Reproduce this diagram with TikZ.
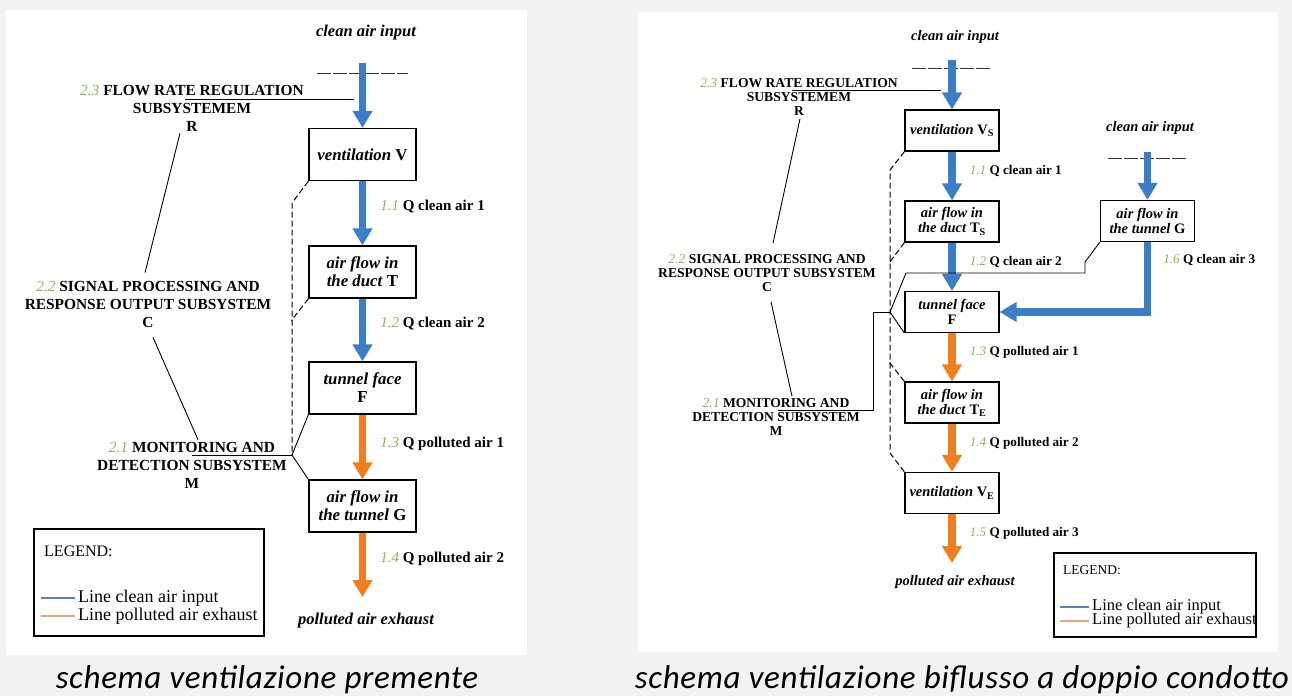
\documentclass[tikz,border=0pt]{standalone}
\usepackage{fontspec}
\setmainfont{Liberation Serif}
\newfontfamily\capfont[LetterSpace=2]{Carlito}
\usetikzlibrary{arrows.meta}
\usetikzlibrary{positioning}

\definecolor{cleanblue}{HTML}{3B7DC6}
\definecolor{dirtyorange}{HTML}{F07D1E}
\definecolor{numgreen}{HTML}{8CB84E}
\definecolor{bggrey}{HTML}{F2F2F2}
\definecolor{legblue}{HTML}{5A82B4}
\definecolor{legorange}{HTML}{E8A878}

\newcommand{\gnum}[1]{{\color{numgreen}\mdseries\itshape #1}}
\newcommand{\boxL}{\fontsize{16.8}{18}\selectfont\bfseries}
\newcommand{\boxR}{\fontsize{14.5}{15}\selectfont\bfseries}
\newcommand{\subL}{\fontsize{15.4}{18}\selectfont\bfseries}
\newcommand{\subR}{\fontsize{13.6}{14}\selectfont\bfseries}
\newcommand{\qL}{\fontsize{15}{17}\selectfont\bfseries}
\newcommand{\qR}{\fontsize{13.2}{15}\selectfont\bfseries}
\newcommand{\tipL}{\fontsize{16.5}{18}\selectfont\bfseries\itshape}
\newcommand{\tipR}{\fontsize{14.5}{16}\selectfont\bfseries\itshape}
\newcommand{\legL}{\fontsize{18}{18}\selectfont}
\newcommand{\legR}{\fontsize{16.5}{16}\selectfont}

\tikzset{
  boxl/.style={draw, line width=1.3pt, fill=white, align=center, inner sep=1pt,
    minimum width=107pt, minimum height=52pt, font=\boxL},
  boxr/.style={draw, line width=1.2pt, fill=white, align=center, inner sep=1pt,
    minimum width=94pt, minimum height=41pt, font=\boxR},
  cleanarrow/.style={draw=cleanblue, line width=7.5pt, -{Triangle[width=19pt,length=17pt]}},
  dirtyarrow/.style={draw=dirtyorange, line width=7.5pt, -{Triangle[width=19pt,length=17pt]}},
  intake/.style={draw=black!80, line width=1pt, dash pattern=on 14pt off 2pt},
  sub/.style={draw, line width=0.9pt},
  ctrl/.style={draw, line width=1pt, dash pattern=on 6pt off 3pt},
  subtxt/.style={align=center, inner sep=2pt},
  qlab/.style={right=14pt, inner sep=0pt},
  legtxt/.style={anchor=west, inner sep=0pt}
}

\begin{document}
\begin{tikzpicture}[x=1pt, y=-1pt]
\useasboundingbox (0,0) rectangle (1292,696);
\fill[bggrey] (0,0) rectangle (1292,696);
\fill[white] (6,10) rectangle (527,655);
\fill[white] (638,12) rectangle (1278,652);

% ---- left: schema premente ----
\node[font=\tipL] (inTxtL) at (366,33) {clean air input};
\coordinate (dashLa) at (317,73);
\coordinate (dashLb) at (408,73);
\coordinate (inL) at (362.5,63);
\coordinate (outL) at (362.5,597);
\draw[intake] (dashLa) -- (dashLb);

\node[boxl] (V) at (362.5,154.5) {\textit{ventilation} V};
\node[boxl] (T) at (362.5,272) {\textit{air flow in}\\\textit{the duct} T};
\node[boxl] (F) at (362.5,388) {\textit{tunnel face}\\F};
\node[boxl] (G) at (362.5,506) {\textit{air flow in}\\\textit{the tunnel} G};

\draw[cleanarrow] (inL) -- (V);
\draw[cleanarrow] (V) -- (T) node[qlab, pos=.4, font=\qL] {\gnum{1.1} Q clean air 1};
\draw[cleanarrow] (T) -- (F) node[qlab, pos=.4, font=\qL] {\gnum{1.2} Q clean air 2};
\draw[dirtyarrow] (F) -- (G) node[qlab, pos=.45, font=\qL] {\gnum{1.3} Q polluted air 1};
\draw[dirtyarrow] (G) -- (outL) node[qlab, pos=.4, font=\qL] {\gnum{1.4} Q polluted air 2};
\node[font=\tipL] (outTxtL) at (366,621) {polluted air exhaust};

\node[subtxt, font=\subL] (Rs) at (192,108) {\gnum{2.3} FLOW RATE REGULATION\\SUBSYSTEMEM\\R};
\node[subtxt, font=\subL] (Cs) at (148,304) {\gnum{2.2} SIGNAL PROCESSING AND\\RESPONSE OUTPUT SUBSYSTEM\\C};
\node[subtxt, font=\subL] (Ms) at (192,465) {\gnum{2.1} MONITORING AND\\DETECTION SUBSYSTEM\\M};
\coordinate (RjL) at (354,99);
\coordinate (MjL) at (292,455);
\coordinate (dL1) at (292,203);

\draw[sub] ([xshift=-7pt,yshift=9pt]Rs.center) -- (RjL);
\draw[sub] ([xshift=-12pt]Rs.south) -- ([xshift=-3pt,yshift=6pt]Cs.north);
\draw[sub] ([xshift=5pt,yshift=-8pt]Cs.south) -- ([xshift=6pt]Ms.north);
\draw[sub] ([yshift=10pt]Ms.center) -- (MjL);
\draw[sub] (F.south west) -- (MjL) -- (G.north west);
\draw[ctrl] (V.south west) -- (dL1) -- (MjL);
\draw[ctrl] (T.south west) -- ++(-17,22);

\node[draw, line width=1.2pt, minimum width=230pt, minimum height=107pt] (legL) at (149,582.5) {};
\node[legtxt, font=\fontsize{16}{16}\selectfont] (legHL) at (44,551) {LEGEND:};
\node[legtxt, font=\legL] (legCL) at (78,598) {Line clean air input};
\node[legtxt, font=\legL] (legPL) at (78,616) {Line polluted air exhaust};
\draw[legblue, line width=1.4pt] ([xshift=-37pt]legCL.west) -- ([xshift=-3pt]legCL.west);
\draw[legorange, line width=1.4pt] ([xshift=-37pt]legPL.west) -- ([xshift=-3pt]legPL.west);

% ---- right: schema biflusso ----
\node[font=\tipR] (inTxtR) at (955,37) {clean air input};
\node[font=\tipR] (inTxtG) at (1150,128) {clean air input};
\coordinate (dashRa) at (912,68);
\coordinate (dashRb) at (992,68);
\coordinate (dashGa) at (1108,158);
\coordinate (dashGb) at (1187,158);
\coordinate (inR) at (952,60);
\coordinate (inG) at (1147.5,152);
\coordinate (outR) at (952,563);
\draw[intake] (dashRa) -- (dashRb);
\draw[intake] (dashGa) -- (dashGb);

\node[boxr] (Vs) at (952,130.5) {\textit{ventilation} V\textsubscript{S}};
\node[boxr] (Ts) at (952,221.5) {\textit{air flow in}\\\textit{the duct} T\textsubscript{S}};
\node[boxr] (F2) at (952,312) {\textit{tunnel face}\\F};
\node[boxr] (Te) at (952,402.5) {\textit{air flow in}\\\textit{the duct} T\textsubscript{E}};
\node[boxr] (Ve) at (952,493) {\textit{ventilation} V\textsubscript{E}};
\node[boxr] (G2) at (1147.5,221) {\textit{air flow in}\\\textit{the tunnel} G};

\draw[cleanarrow] (inR) -- (Vs);
\draw[cleanarrow] (Vs) -- (Ts) node[qlab, pos=.4, font=\qR] {\gnum{1.1} Q clean air 1};
\draw[cleanarrow] (Ts) -- (F2) node[qlab, pos=.4, font=\qR] {\gnum{1.2} Q clean air 2};
\draw[cleanarrow] (inG) -- (G2);
\draw[cleanarrow] (G2) |- (F2) node[right=12pt, inner sep=0pt, pos=.13, font=\qR] {\gnum{1.6} Q clean air 3};
\draw[dirtyarrow] (F2) -- (Te) node[qlab, pos=.4, font=\qR] {\gnum{1.3} Q polluted air 1};
\draw[dirtyarrow] (Te) -- (Ve) node[qlab, pos=.4, font=\qR] {\gnum{1.4} Q polluted air 2};
\draw[dirtyarrow] (Ve) -- (outR) node[qlab, pos=.4, font=\qR] {\gnum{1.5} Q polluted air 3};
\node[font=\tipR] (outTxtR) at (955,582) {polluted air exhaust};

\node[subtxt, font=\subR] (Rs2) at (799,97) {\gnum{2.3} FLOW RATE REGULATION\\SUBSYSTEMEM\\R};
\node[subtxt, font=\subR] (Cs2) at (767,273) {\gnum{2.2} SIGNAL PROCESSING AND\\RESPONSE OUTPUT SUBSYSTEM\\C};
\node[subtxt, font=\subR] (Ms2) at (776,417) {\gnum{2.1} MONITORING AND\\DETECTION SUBSYSTEM\\M};
\coordinate (RjR) at (941,90);
\coordinate (MjR) at (890,312);
\coordinate (MkR) at (906,273);
\coordinate (MgR) at (1085,262);
\coordinate (MbR) at (873,410);
\coordinate (dR1) at (890,170);
\coordinate (dR2) at (890,453);

\draw[sub] ([xshift=-7pt,yshift=7pt]Rs2.center) -- (RjR);
\draw[sub] ([xshift=1pt,yshift=-1pt]Rs2.south) -- ([xshift=6pt,yshift=9pt]Cs2.north);
\draw[sub] ([xshift=4pt,yshift=-8pt]Cs2.south) -- ([xshift=16pt]Ms2.north);
\draw[sub] ([xshift=2pt,yshift=7pt]Ms2.center) -- (MbR) |- (MjR);
\draw[sub] (F2.south west) -- (MjR) -- (MkR) -| (MgR) -- (G2.south west);
\draw[ctrl] (Vs.south west) -- (dR1) -- (dR2) -- (Ve.north west);
\draw[ctrl] (Ts.south west) -- ++(-15,20);
\draw[ctrl] (Te.north west) -- ++(-15,-19);

\node[draw, line width=1.2pt, minimum width=202pt, minimum height=84pt] (legR) at (1155,595) {};
\node[legtxt, font=\fontsize{13.5}{14}\selectfont] (legHR) at (1063,570) {LEGEND:};
\node[legtxt, font=\legR] (legCR) at (1092,607) {Line clean air input};
\node[legtxt, font=\legR] (legPR) at (1092,621) {Line polluted air exhaust};
\draw[legblue, line width=1.2pt] ([xshift=-32pt]legCR.west) -- ([xshift=-3pt]legCR.west);
\draw[legorange, line width=1.2pt] ([xshift=-32pt]legPR.west) -- ([xshift=-3pt]legPR.west);

% ---- captions ----
\node[font=\capfont\itshape\fontsize{33}{36}\selectfont] (capL) at (267,680) {schema ventilazione premente};
\node[font=\capfont\itshape\fontsize{33}{36}\selectfont] (capR) at (962,680) {schema ventilazione biflusso a doppio condotto};
\end{tikzpicture}
\end{document}
